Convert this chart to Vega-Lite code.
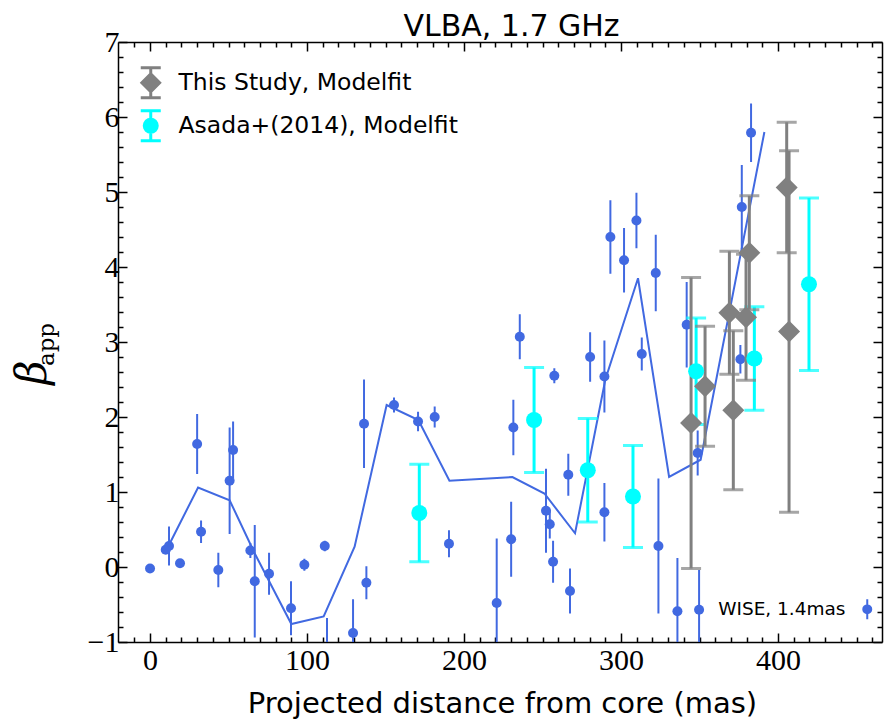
{
  "$schema": "https://vega.github.io/schema/vega-lite/v6.json",
  "width": 764,
  "height": 600,
  "autosize": {"type": "none"},
  "padding": {"left": 118, "top": 42, "right": 4, "bottom": 78},
  "background": "white",
  "config": {"view": {"stroke": null}, "axis": {"grid": false}},
  "datasets": {
    "wise": [
      {"x": 0, "y": -0.02, "e": 0.03},
      {"x": 10, "y": 0.23, "e": 0.05},
      {"x": 12.1, "y": 0.28, "e": 0.26},
      {"x": 19.1, "y": 0.05, "e": 0.04},
      {"x": 30, "y": 1.64, "e": 0.40},
      {"x": 32.5, "y": 0.47, "e": 0.15},
      {"x": 43.5, "y": -0.04, "e": 0.23},
      {"x": 50.7, "y": 1.15, "e": 0.71},
      {"x": 52.9, "y": 1.56, "e": 0.38},
      {"x": 63.9, "y": 0.22, "e": 0.10},
      {"x": 66.7, "y": -0.19, "e": 0.75},
      {"x": 75.8, "y": -0.09, "e": 0.28},
      {"x": 89.8, "y": -0.55, "e": 0.36},
      {"x": 98.3, "y": 0.03, "e": 0.08},
      {"x": 111.3, "y": 0.28, "e": 0.07},
      {"x": 112.7, "y": -1.2, "e": 0.52},
      {"x": 129.3, "y": -0.88, "e": 0.45},
      {"x": 136.3, "y": 1.91, "e": 0.59},
      {"x": 137.8, "y": -0.21, "e": 0.22},
      {"x": 155.4, "y": 2.16, "e": 0.10},
      {"x": 170.7, "y": 1.94, "e": 0.13},
      {"x": 181.3, "y": 2.00, "e": 0.14},
      {"x": 190.4, "y": 0.31, "e": 0.18},
      {"x": 220.8, "y": -0.48, "e": 0.86},
      {"x": 230.0, "y": 0.37, "e": 0.50},
      {"x": 231.4, "y": 1.86, "e": 0.37},
      {"x": 235.5, "y": 3.07, "e": 0.30},
      {"x": 252.2, "y": 0.75, "e": 0.56},
      {"x": 254.6, "y": 0.57, "e": 0.19},
      {"x": 256.7, "y": 0.07, "e": 0.28},
      {"x": 257.5, "y": 2.55, "e": 0.10},
      {"x": 266.4, "y": 1.23, "e": 0.28},
      {"x": 267.5, "y": -0.32, "e": 0.30},
      {"x": 280.3, "y": 2.80, "e": 0.33},
      {"x": 289.4, "y": 0.73, "e": 0.39},
      {"x": 289.4, "y": 2.54, "e": 0.48},
      {"x": 293.2, "y": 4.40, "e": 0.49},
      {"x": 301.9, "y": 4.09, "e": 0.43},
      {"x": 309.8, "y": 4.62, "e": 0.37},
      {"x": 313.2, "y": 2.84, "e": 0.22},
      {"x": 322.1, "y": 3.92, "e": 0.51},
      {"x": 323.8, "y": 0.28, "e": 0.90},
      {"x": 335.9, "y": -0.59, "e": 0.71},
      {"x": 341.8, "y": 3.23, "e": 0.57},
      {"x": 348.8, "y": 1.52, "e": 0.30},
      {"x": 349.7, "y": -0.57, "e": 0.53},
      {"x": 376.0, "y": 2.77, "e": 0.19},
      {"x": 376.9, "y": 4.80, "e": 0.56},
      {"x": 382.8, "y": 5.79, "e": 0.39}
    ],
    "wiseline": [
      {"x": 11.5, "y": 0.27},
      {"x": 30.6, "y": 1.06},
      {"x": 50.7, "y": 0.89},
      {"x": 66.7, "y": 0.18},
      {"x": 90.0, "y": -0.76},
      {"x": 110.6, "y": -0.66},
      {"x": 130.3, "y": 0.27},
      {"x": 150.7, "y": 2.16},
      {"x": 170.9, "y": 1.96},
      {"x": 190.7, "y": 1.15},
      {"x": 230.8, "y": 1.20},
      {"x": 251.2, "y": 0.98},
      {"x": 270.7, "y": 0.45},
      {"x": 290.0, "y": 2.50},
      {"x": 310.8, "y": 3.85},
      {"x": 330.6, "y": 1.20},
      {"x": 350.7, "y": 1.43},
      {"x": 391.3, "y": 5.80}
    ],
    "asada": [
      {"series": "Asada+(2014), Modelfit", "x": 171.5, "y": 0.72, "e": 0.65},
      {"series": "Asada+(2014), Modelfit", "x": 244.6, "y": 1.96, "e": 0.70},
      {"series": "Asada+(2014), Modelfit", "x": 278.8, "y": 1.29, "e": 0.69},
      {"series": "Asada+(2014), Modelfit", "x": 307.6, "y": 0.94, "e": 0.68},
      {"series": "Asada+(2014), Modelfit", "x": 347.8, "y": 2.61, "e": 0.71},
      {"series": "Asada+(2014), Modelfit", "x": 384.9, "y": 2.78, "e": 0.69},
      {"series": "Asada+(2014), Modelfit", "x": 419.7, "y": 3.77, "e": 1.15}
    ],
    "study": [
      {"series": "This Study, Modelfit", "x": 344.6, "y": 1.92, "e": 1.94},
      {"series": "This Study, Modelfit", "x": 353.5, "y": 2.41, "e": 0.80},
      {"series": "This Study, Modelfit", "x": 369.0, "y": 3.39, "e": 0.82},
      {"series": "This Study, Modelfit", "x": 371.5, "y": 2.09, "e": 1.06},
      {"series": "This Study, Modelfit", "x": 379.6, "y": 3.33, "e": 0.84},
      {"series": "This Study, Modelfit", "x": 381.7, "y": 4.19, "e": 0.76},
      {"series": "This Study, Modelfit", "x": 405.5, "y": 5.06, "e": 0.87},
      {"series": "This Study, Modelfit", "x": 407.0, "y": 3.14, "e": 2.41}
    ],
    "vlba": [
      {"series": "Asada+(2014), Modelfit", "x": 171.5, "y": 0.72},
      {"series": "Asada+(2014), Modelfit", "x": 244.6, "y": 1.96},
      {"series": "Asada+(2014), Modelfit", "x": 278.8, "y": 1.29},
      {"series": "Asada+(2014), Modelfit", "x": 307.6, "y": 0.94},
      {"series": "Asada+(2014), Modelfit", "x": 347.8, "y": 2.61},
      {"series": "Asada+(2014), Modelfit", "x": 384.9, "y": 2.78},
      {"series": "Asada+(2014), Modelfit", "x": 419.7, "y": 3.77},
      {"series": "This Study, Modelfit", "x": 344.6, "y": 1.92},
      {"series": "This Study, Modelfit", "x": 353.5, "y": 2.41},
      {"series": "This Study, Modelfit", "x": 369.0, "y": 3.39},
      {"series": "This Study, Modelfit", "x": 371.5, "y": 2.09},
      {"series": "This Study, Modelfit", "x": 379.6, "y": 3.33},
      {"series": "This Study, Modelfit", "x": 381.7, "y": 4.19},
      {"series": "This Study, Modelfit", "x": 405.5, "y": 5.06},
      {"series": "This Study, Modelfit", "x": 407.0, "y": 3.14}
    ]
  },
  "resolve": {"axis": {"x": "independent", "y": "independent"}},
  "layer": [
    {
      "data": {"name": "wise"},
      "mark": {"type": "errorbar", "thickness": 2, "color": "#4169e1", "clip": true},
      "encoding": {
        "x": {"field": "x", "type": "quantitative", "scale": {"domain": [-20.4, 466.2], "nice": false, "zero": false}, "axis": null},
        "y": {"field": "y", "type": "quantitative", "scale": {"domain": [-1, 7], "nice": false, "zero": false}, "axis": null},
        "yError": {"field": "e"}
      }
    },
    {
      "data": {"name": "wise"},
      "mark": {"type": "point", "filled": true, "size": 100, "opacity": 1, "clip": true},
      "encoding": {
        "x": {"field": "x", "type": "quantitative", "scale": {"domain": [-20.4, 466.2], "nice": false, "zero": false},
          "axis": {"orient": "top", "values": [-10,0,10,20,30,40,50,60,70,80,90,100,110,120,130,140,150,160,170,180,190,200,210,220,230,240,250,260,270,280,290,300,310,320,330,340,350,360,370,380,390,400,410,420,430,440,450,460],
            "labels": false, "domainColor": "black", "domainWidth": 1.5, "tickColor": "black", "tickWidth": 1.5,
            "tickSize": {"condition": {"test": "abs(datum.value % 100) < 0.001", "value": -9}, "value": -5},
            "title": "VLBA, 1.7 GHz", "titleFont": "DejaVu Sans", "titleFontSize": 30, "titleFontWeight": "normal", "titleColor": "black",
            "titleX": 393, "titleY": -7, "titleAlign": "center", "titleBaseline": "alphabetic"}},
        "y": {"field": "y", "type": "quantitative", "scale": {"domain": [-1, 7], "nice": false, "zero": false},
          "axis": {"orient": "right", "values": [-1,-0.8,-0.6,-0.4,-0.2,0,0.2,0.4,0.6,0.8,1,1.2,1.4,1.6,1.8,2,2.2,2.4,2.6,2.8,3,3.2,3.4,3.6,3.8,4,4.2,4.4,4.6,4.8,5,5.2,5.4,5.6,5.8,6,6.2,6.4,6.6,6.8,7],
            "labels": false, "title": null, "domainColor": "black", "domainWidth": 1.5, "tickColor": "black", "tickWidth": 1.5,
            "tickSize": {"condition": {"test": "abs(datum.value - round(datum.value)) < 0.001", "value": -9}, "value": -5}}},
        "fill": {"datum": "WISE, 1.4mas", "type": "nominal", "scale": {"domain": ["WISE, 1.4mas"], "range": ["#4169e1"]},
          "legend": {"orient": "none", "legendX": 740, "legendY": 558, "title": null, "padding": 0,
            "symbolType": "M-1,0L-0.924,-0.383L-0.707,-0.707L-0.383,-0.924L0,-1L0.383,-0.924L0.707,-0.707L0.924,-0.383L1,0L0.924,0.383L0.707,0.707L0.383,0.924L0,1L-0.383,0.924L-0.707,0.707L-0.924,0.383ZM-0.2,-2L0.2,-2L0.2,2L-0.2,2Z",
            "symbolSize": 100, "symbolStrokeWidth": 0, "symbolOpacity": 1,
            "labelAlign": "right", "labelOffset": -31,
            "labelFont": "DejaVu Sans", "labelFontSize": 18.5, "labelColor": "black", "labelLimit": 0}}
      }
    },
    {
      "data": {"name": "wiseline"},
      "mark": {"type": "line", "color": "#4169e1", "strokeWidth": 2, "clip": true},
      "encoding": {
        "x": {"field": "x", "type": "quantitative", "scale": {"domain": [-20.4, 466.2], "nice": false, "zero": false},
          "axis": {"orient": "bottom", "values": [-10,0,10,20,30,40,50,60,70,80,90,100,110,120,130,140,150,160,170,180,190,200,210,220,230,240,250,260,270,280,290,300,310,320,330,340,350,360,370,380,390,400,410,420,430,440,450,460],
            "labelExpr": "abs(datum.value % 100) < 0.001 ? datum.label : ''", "format": ".0f",
            "labelFont": "Liberation Serif", "labelFontSize": 30, "labelColor": "black", "labelPadding": 12,
            "labelOverlap": false, "labelFlush": false, "labelBound": false,
            "domainColor": "black", "domainWidth": 1.5, "tickColor": "black", "tickWidth": 1.5,
            "tickSize": {"condition": {"test": "abs(datum.value % 100) < 0.001", "value": -9}, "value": -5},
            "title": "Projected distance from core (mas)", "titleFont": "DejaVu Sans", "titleFontSize": 29, "titleFontWeight": "normal", "titleColor": "black",
            "titleX": 384, "titleY": 70, "titleAlign": "center", "titleBaseline": "alphabetic"}},
        "y": {"field": "y", "type": "quantitative", "scale": {"domain": [-1, 7], "nice": false, "zero": false},
          "axis": {"orient": "left", "values": [-1,-0.8,-0.6,-0.4,-0.2,0,0.2,0.4,0.6,0.8,1,1.2,1.4,1.6,1.8,2,2.2,2.4,2.6,2.8,3,3.2,3.4,3.6,3.8,4,4.2,4.4,4.6,4.8,5,5.2,5.4,5.6,5.8,6,6.2,6.4,6.6,6.8,7],
            "labelExpr": "abs(datum.value - round(datum.value)) < 0.001 ? datum.label : ''", "format": ".0f",
            "labelFont": "Liberation Serif", "labelFontSize": 30, "labelColor": "black", "labelPadding": 8,
            "labelOverlap": false, "labelFlush": false, "labelBound": false,
            "domainColor": "black", "domainWidth": 1.5, "tickColor": "black", "tickWidth": 1.5,
            "tickSize": {"condition": {"test": "abs(datum.value - round(datum.value)) < 0.001", "value": -9}, "value": -5},
            "title": "β", "titleFont": "DejaVu Serif", "titleFontStyle": "italic", "titleFontSize": 42, "titleFontWeight": "normal", "titleColor": "black",
            "titleAngle": 270, "titleX": -86, "titleY": 330, "titleAlign": "center", "titleBaseline": "middle"}}
      }
    },
    {
      "data": {"name": "asada"},
      "mark": {"type": "errorbar", "ticks": true, "size": 20, "thickness": 3, "color": "#00ffff", "clip": true},
      "encoding": {
        "x": {"field": "x", "type": "quantitative", "scale": {"domain": [-20.4, 466.2], "nice": false, "zero": false}, "axis": null},
        "y": {"field": "y", "type": "quantitative", "scale": {"domain": [-1, 7], "nice": false, "zero": false}, "axis": null},
        "yError": {"field": "e"}
      }
    },
    {
      "data": {"name": "study"},
      "mark": {"type": "errorbar", "ticks": true, "size": 20, "thickness": 3, "color": "#808080", "clip": true},
      "encoding": {
        "x": {"field": "x", "type": "quantitative", "scale": {"domain": [-20.4, 466.2], "nice": false, "zero": false}, "axis": null},
        "y": {"field": "y", "type": "quantitative", "scale": {"domain": [-1, 7], "nice": false, "zero": false}, "axis": null},
        "yError": {"field": "e"}
      }
    },
    {
      "data": {"name": "vlba"},
      "mark": {"type": "point", "filled": true, "opacity": 1, "clip": true},
      "encoding": {
        "x": {"field": "x", "type": "quantitative", "scale": {"domain": [-20.4, 466.2], "nice": false, "zero": false}, "axis": null},
        "y": {"field": "y", "type": "quantitative", "scale": {"domain": [-1, 7], "nice": false, "zero": false},
          "axis": {"orient": "left", "domain": false, "ticks": false, "labels": false, "grid": false,
            "title": "app", "titleFont": "DejaVu Serif", "titleFontSize": 23, "titleFontWeight": "normal", "titleColor": "black",
            "titleAngle": 270, "titleX": -72, "titleY": 302, "titleAlign": "center", "titleBaseline": "middle"}},
        "color": {"condition": {"test": "datum.series === 'This Study, Modelfit'", "value": "#808080"}, "value": "#00ffff"},
        "shape": {"condition": {"test": "datum.series === 'This Study, Modelfit'", "value": "diamond"}, "value": "circle"},
        "size": {"condition": {"test": "datum.series === 'This Study, Modelfit'", "value": 484}, "value": 256}
      }
    },
    {
      "data": {"name": "vlba"},
      "transform": [{"filter": "false"}],
      "mark": {"type": "point", "filled": true, "opacity": 1, "size": 484},
      "encoding": {
        "x": {"field": "x", "type": "quantitative", "scale": {"domain": [-20.4, 466.2], "nice": false, "zero": false}, "axis": null},
        "y": {"field": "y", "type": "quantitative", "scale": {"domain": [-1, 7], "nice": false, "zero": false}, "axis": null},
        "color": {"field": "series", "type": "nominal",
          "scale": {"domain": ["This Study, Modelfit", "Asada+(2014), Modelfit"], "range": ["#808080", "#00ffff"]},
          "legend": {"orient": "none", "legendX": 21, "legendY": 29, "title": null, "padding": 0, "rowPadding": 9,
            "symbolSize": 484, "symbolStrokeWidth": 0, "symbolOpacity": 1, "labelOffset": 16,
            "labelFont": "DejaVu Sans", "labelFontSize": 23.5, "labelColor": "black", "labelLimit": 0}},
        "shape": {"field": "series", "type": "nominal",
          "scale": {"domain": ["This Study, Modelfit", "Asada+(2014), Modelfit"],
            "range": [
              "M0,-1L1,0L0,1L-1,0ZM-0.136,-1.5L0.136,-1.5L0.136,1.5L-0.136,1.5ZM-0.91,-1.5L0.91,-1.5L0.91,-1.23L-0.91,-1.23ZM-0.91,1.23L0.91,1.23L0.91,1.5L-0.91,1.5Z",
              "M-0.727,0L-0.672,-0.278L-0.514,-0.514L-0.278,-0.672L0,-0.727L0.278,-0.672L0.514,-0.514L0.672,-0.278L0.727,0L0.672,0.278L0.514,0.514L0.278,0.672L0,0.727L-0.278,0.672L-0.514,0.514L-0.672,0.278ZM-0.136,-1.5L0.136,-1.5L0.136,1.5L-0.136,1.5ZM-0.91,-1.5L0.91,-1.5L0.91,-1.23L-0.91,-1.23ZM-0.91,1.23L0.91,1.23L0.91,1.5L-0.91,1.5Z"
            ]},
          "legend": {"orient": "none", "legendX": 21, "legendY": 29, "title": null, "padding": 0, "rowPadding": 9,
            "symbolSize": 484, "symbolStrokeWidth": 0, "symbolOpacity": 1, "labelOffset": 16,
            "labelFont": "DejaVu Sans", "labelFontSize": 23.5, "labelColor": "black", "labelLimit": 0}}
      }
    }
  ]
}
